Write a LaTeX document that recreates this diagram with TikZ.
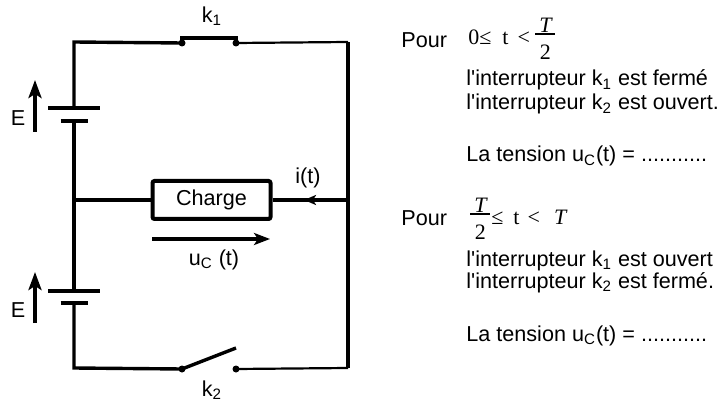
\documentclass[tikz,border=0pt]{standalone}
\usepackage{fontspec}
\setmainfont{Liberation Sans}
\newfontfamily\serif{Liberation Serif}
\usetikzlibrary{arrows.meta}

% fraction T/2 as set by the formula editor
\newcommand{\fracT}{\vbox{\hbox to 10pt{\hss\itshape T\hss}\kern0.5pt
  \hrule height 1pt\kern5pt\hbox to 10pt{\hss 2\hss}}}
\newcommand{\apo}{\textquotesingle}

\tikzset{
  wire/.style={line width=1.7pt},
  thinwire/.style={line width=1.1pt},
  plate/.style={line width=2pt},
  fleche/.style={line width=1.8pt, -{Stealth[length=9pt,width=6.5pt,inset=2pt]}},
  pin/.style={circle, fill, inner sep=0pt, minimum size=3.5pt},
  txt/.style={anchor=base west, inner sep=0pt},
  formule/.style={anchor=base west, inner sep=0pt, font=\fontsize{11}{13}\serif}
}

\begin{document}
\begin{tikzpicture}[x=0.5pt,y=-0.5pt,font=\fontsize{10.8}{13}\selectfont]
\useasboundingbox (0,0) rectangle (722,406);
% corners of the circuit
\coordinate (tl) at (74,42);
\coordinate (tr) at (348,42);
\coordinate (bl) at (74,368);
\coordinate (br) at (348,368);
\coordinate (ml) at (74,200);
\coordinate (mr) at (348,200);
% batteries
\coordinate (b1p) at (74,108);
\coordinate (b1n) at (74,121);
\coordinate (b2p) at (74,291);
\coordinate (b2n) at (74,303);
% switches
\node[pin] (k1a) at (182,43) {};
\node[pin] (k1b) at (236,43) {};
\node[pin] (k2a) at (182,369) {};
\node[pin] (k2b) at (236,369) {};
\coordinate (k2end) at (236,348);

\node[draw, line width=2pt, rounded corners=1pt, minimum width=59pt, minimum height=19pt] (charge) at (211.5,200) {Charge};

\draw[wire] (k1a.center) -- (tl) -- (b1p);
\draw[wire] (b1n) -- (b2p);
\draw[wire] (b2n) -- (bl) -- (k2a.center);
\draw[thinwire] (k1b.center) -- (tr);
\draw[wire] (tr) -- (br);
\draw[thinwire] (br) -- (k2b.center);
\draw[wire] (ml) -- (charge);
\draw[wire] (charge) -- (mr);

% battery plates
\draw[plate] (b1p) ++(-26,0) -- ++(52,0);
\draw[plate] (b1n) ++(-13.5,0) -- ++(27,0);
\draw[plate] (b2p) ++(-26,0) -- ++(52,0);
\draw[plate] (b2n) ++(-13.5,0) -- ++(27,0);

% k1 closed, k2 open
\draw[line width=2pt] (k1a.center) ++(-2,-5) -- ++(58,0);
\draw[wire] (k2a.center) -- (k2end);
\node (k1) at (212,16) {k\textsubscript{1}};
\node (k2) at (212,390) {k\textsubscript{2}};

% current
\coordinate (itip) at (304,200);
\draw[line width=1.5pt, -{Stealth[length=6pt,width=5pt,inset=1.5pt]}] (mr) -- (itip);
\node (i) at (308,178) {i(t)};

% voltages
\coordinate (E1a) at (35,132);
\coordinate (E1b) at (35,80);
\coordinate (E2a) at (35,323);
\coordinate (E2b) at (35,272);
\draw[fleche] (E1a) -- (E1b);
\draw[fleche] (E2a) -- (E2b);
\node (E1) at (18,118) {E};
\node (E2) at (18,310) {E};
\coordinate (uca) at (152,239);
\coordinate (ucb) at (270,239);
\draw[line width=1.8pt, -{Stealth[length=8pt,width=6pt,inset=2pt]}] (uca) -- (ucb);
\node (uc) at (214,260) {u\textsubscript{C} (t)};

% first half period
\node[txt] (pour1) at (401,48) {Pour};
\node[formule] (cond1) at (468,45) {0≤\hspace{5.5pt}t\hspace{4.5pt}<};
\node[formule] (frac1) at (535,60) {\fracT};
\node[txt] (l11) at (466,86) {l\apo interrupteur k\textsubscript{1} est fermé};
\node[txt] (l12) at (466,110) {l\apo interrupteur k\textsubscript{2} est ouvert.};
\node[txt] (l13) at (466,162) {La tension u\textsubscript{C}(t) = ...........};

% second half period
\node[txt] (pour2) at (401,226) {Pour};
\node[formule] (frac2) at (470,240) {\fracT};
\node[formule] (cond2) at (491,225) {≤\hspace{5pt}t\hspace{4pt}<\hspace{7pt}\itshape T};
\node[txt] (l21) at (466,266) {l\apo interrupteur k\textsubscript{1} est ouvert};
\node[txt] (l22) at (466,288) {l\apo interrupteur k\textsubscript{2} est fermé.};
\node[txt] (l23) at (466,341) {La tension u\textsubscript{C}(t) = ...........};
\end{tikzpicture}
\end{document}
